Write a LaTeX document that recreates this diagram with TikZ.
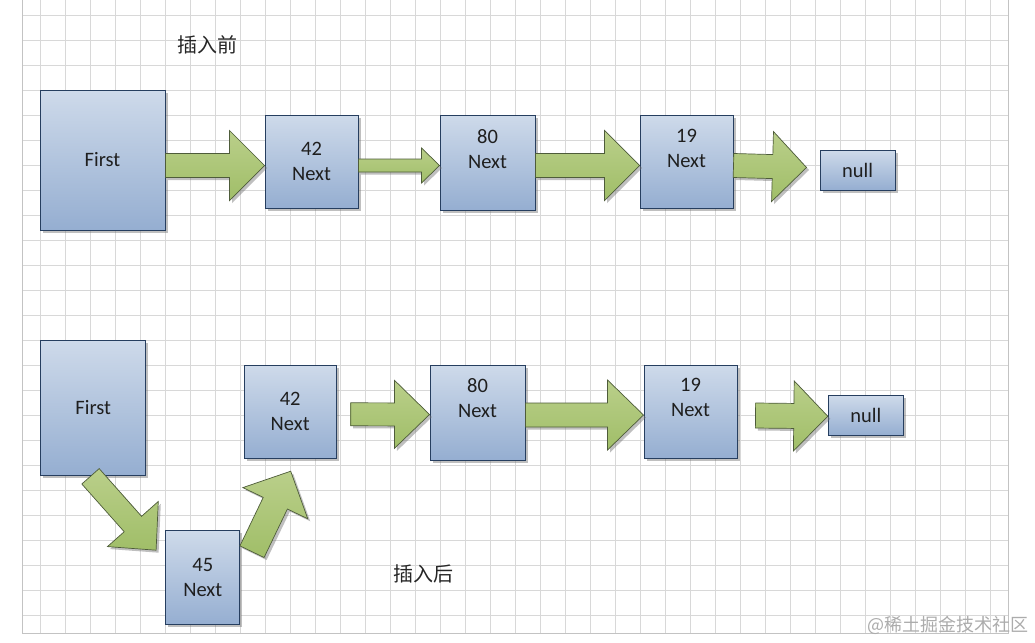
\documentclass[tikz,border=0pt]{standalone}
\usepackage{fontspec}
\setmainfont{Carlito}
\newfontfamily\cjk{Noto Sans CJK SC}
\usetikzlibrary{calc,shadows}
\definecolor{boxtop}{RGB}{206,218,234}
\definecolor{boxbot}{RGB}{149,174,209}
\definecolor{boxline}{RGB}{38,62,95}
\definecolor{argtop}{RGB}{186,207,138}
\definecolor{argbot}{RGB}{160,190,104}
\definecolor{arline}{RGB}{78,92,58}
\definecolor{gridc}{RGB}{216,216,216}
\definecolor{gridb}{RGB}{195,195,195}
\definecolor{wmc}{RGB}{172,172,172}
\tikzset{
  boxtxt/.style={font=\fontsize{20.5}{25}\selectfont, align=center, text=black!88},
  box/.style={draw=boxline, line width=1pt, top color=boxtop, bottom color=boxbot,
    drop shadow={shadow xshift=2.5pt, shadow yshift=-2.5pt, opacity=0.45, fill=black!55},
    inner sep=0pt, boxtxt},
  blockarrow/.style={draw=arline, line width=0.7pt, top color=argtop, bottom color=argbot,
    line join=miter,
    drop shadow={shadow xshift=2.5pt, shadow yshift=-2.5pt, opacity=0.45, fill=black!55}},
  gridline/.style={draw=gridc, line width=0.75pt},
  cjklbl/.style={font=\cjk\fontsize{20}{24}\selectfont, text=black!85},
  wmark/.style={font=\cjk\fontsize{18}{20}\selectfont, text=wmc}
}
% block arrow: start, tip, shaft half width, head half width, head length
\newcommand\barrow[5]{%
  \coordinate (hb) at ($(#2)!#5pt!(#1)$);
  \draw[blockarrow] ($(#1)!#3pt!90:(#2)$) -- ($(hb)!#3pt!90:(#2)$) -- ($(hb)!#4pt!90:(#2)$)
    -- (#2) -- ($(hb)!#4pt!-90:(#2)$) -- ($(hb)!#3pt!-90:(#2)$) -- ($(#1)!#3pt!-90:(#2)$) -- cycle;}
\begin{document}
\begin{tikzpicture}[x=1pt, y=-1pt]
\useasboundingbox (0,0) rectangle (1035,642);
\fill[white] (0,0) rectangle (1035,642);
% grid
\foreach \x in {40,65,...,990} \draw[gridline] (\x,0) -- (\x,633);
\foreach \y in {15,40,...,615} \draw[gridline] (22,\y) -- (1008,\y);
\draw[draw=gridb, line width=0.9pt] (22,0) -- (22,633) -- (1008,633) -- (1008,0);

% labels
\node[cjklbl] (before) at (207,45) {插入前};
\node[cjklbl] (after) at (423,574) {插入后};

% top row
\node[box, minimum width=125, minimum height=140] (f1) at (102.5,160) {First};
\node[box, minimum width=93, minimum height=93] (a42) at (311.5,161.5) {42\\Next};
\node[box, minimum width=95, minimum height=95,
  label={[boxtxt, yshift=13pt]center:80\\Next}] (a80) at (487.5,162.5) {};
\node[box, minimum width=93, minimum height=93,
  label={[boxtxt, yshift=13pt]center:19\\Next}] (a19) at (686.5,161.5) {};
\node[box, minimum width=75, minimum height=40] (anull) at (857.5,170) {null};

\coordinate (t1s) at ($(f1.east)+(0,5.5)$);
\coordinate (t1e) at ($(a42.west)+(0,4)$);
\barrow{t1s}{t1e}{12}{35}{35}
\coordinate (t2s) at ($(a42.east)+(0,4)$);
\coordinate (t2e) at ($(a80.west)+(0,3)$);
\barrow{t2s}{t2e}{6.5}{17.5}{18}
\coordinate (t3s) at ($(a80.east)+(0,3)$);
\coordinate (t3e) at ($(a19.west)+(0,4)$);
\barrow{t3s}{t3e}{12}{35}{35}
\coordinate (t4s) at ($(a19.east)+(0,4)$);
\coordinate (t4e) at ($(anull.west)+(-13,-2.5)$);
\barrow{t4s}{t4e}{12}{35}{34}

% bottom row
\node[box, minimum width=105, minimum height=135] (f2) at (93.2,407.5) {First};
\node[box, minimum width=92, minimum height=93] (b42) at (290.2,411.8) {42\\Next};
\node[box, minimum width=95, minimum height=95,
  label={[boxtxt, yshift=14pt]center:80\\Next}] (b80) at (477.5,412.5) {};
\node[box, minimum width=93, minimum height=93,
  label={[boxtxt, yshift=14pt]center:19\\Next}] (b19) at (690.5,411.5) {};
\node[box, minimum width=75, minimum height=40] (bnull) at (865.8,415.3) {null};
\node[box, minimum width=74, minimum height=94] (b45) at (202.8,577.8) {45\\Next};

\coordinate (d1s) at ($(f2.south)+(-2.7,0.8)$);
\coordinate (d1e) at ($(b45.north west)+(-9.2,19.9)$);
\barrow{d1s}{d1e}{11.6}{34}{35}
\coordinate (d2s) at ($(b45.east)+(11.7,-26.1)$);
\coordinate (d2e) at ($(b42.south)+(0.5,12.4)$);
\barrow{d2s}{d2e}{13.4}{36}{35.5}
\coordinate (b1s) at ($(b42.east)+(14,2.5)$);
\coordinate (b1e) at ($(b80.west)+(0,2)$);
\barrow{b1s}{b1e}{11.5}{34}{35}
\coordinate (b2s) at ($(b80.east)+(0,2.5)$);
\coordinate (b2e) at ($(b19.west)+(0,3.5)$);
\barrow{b2s}{b2e}{12}{35}{36}
\coordinate (b3s) at ($(b19.east)+(18,4)$);
\coordinate (b3e) at ($(bnull.west)+(0,1)$);
\barrow{b3s}{b3e}{12.5}{35}{34}

% watermark
\node[wmark] (wm) at (948,625) {@稀土掘金技术社区};
\end{tikzpicture}
\end{document}
